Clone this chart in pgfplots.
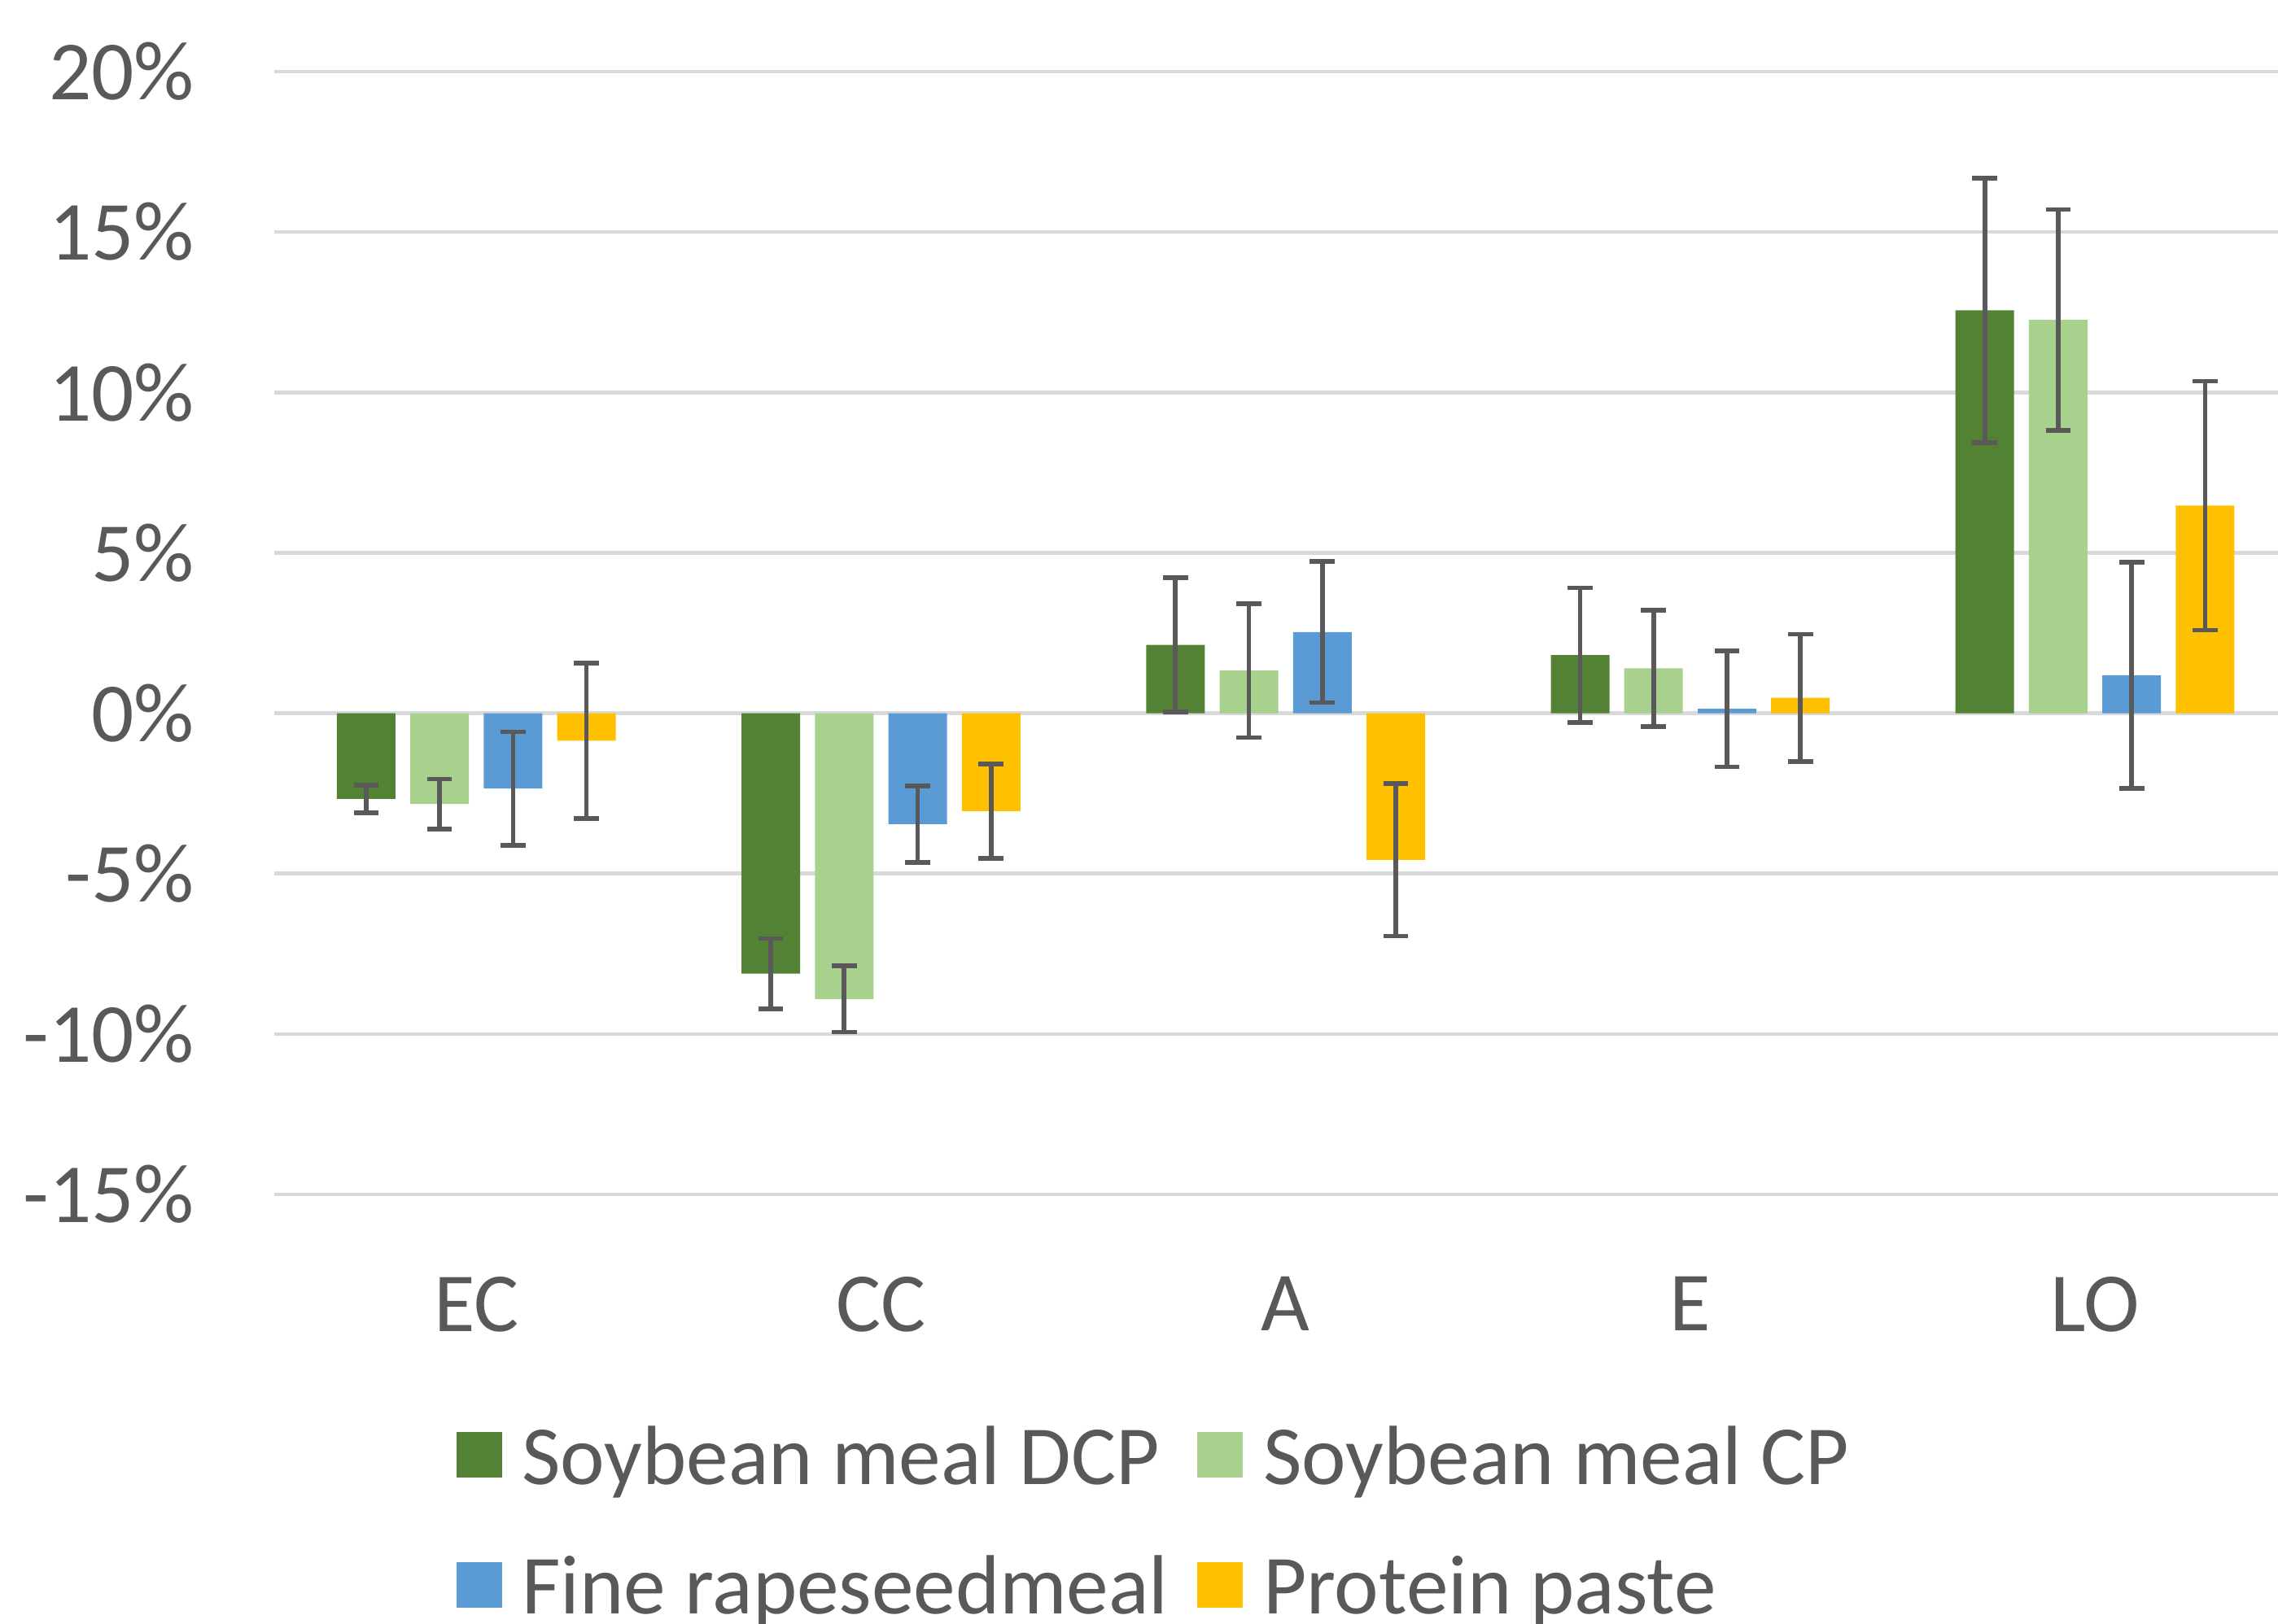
\documentclass[border=0pt]{standalone}
\usepackage{pgfplots}
\pgfplotsset{compat=1.18}
\usepackage{fontspec}
\setmainfont{Carlito}
\definecolor{cDCP}{HTML}{548235}
\definecolor{cCP}{HTML}{A9D18E}
\definecolor{cFine}{HTML}{5B9BD5}
\definecolor{cProt}{HTML}{FFC000}
\definecolor{txt}{HTML}{595959}
\definecolor{grd}{HTML}{D9D9D9}
\begin{document}
\begin{tikzpicture}
\begin{axis}[
  at={(0,0)}, anchor=south west,
  scale only axis, width=372.9pt, height=207pt,
  xmin=-0.5, xmax=4.5, ymin=-15, ymax=20,
  ytick={-15,-10,...,20},
  xtick={0,1,2,3,4},
  xticklabels={EC,CC,A,E,LO},
  yticklabel={\pgfmathprintnumber{\tick}\%},
  /pgf/number format/assume math mode=true,
  axis line style={draw=none},
  major tick length=0pt,
  ymajorgrids, grid style={grd, line width=0.68pt},
  font=\fontsize{15.5}{18}\selectfont,
  every tick label/.append style={text=txt},
  yticklabel style={anchor=east, inner sep=0pt, xshift=-14.5pt},
  xticklabel style={anchor=north, inner sep=0pt, yshift=-15pt},
  ybar, bar width=10.8pt,
  error bars/y dir=both, error bars/y explicit,
  error bars/error bar style={txt, line width=0.85pt},
  error bars/error mark options={txt, rotate=90, mark size=2.3pt, line width=0.85pt},
  legend columns=2,
  legend cell align=left,
  legend style={at={(axis description cs:0.0896,0)}, anchor=north west, yshift=-42.2pt,
    draw=none, fill=none, inner sep=0pt, row sep=8.95pt,
    font=\fontsize{15.5}{18}\selectfont, text=txt,
    nodes={inner sep=0pt, text height=11pt, text depth=4pt},
    /tikz/every odd column/.append style={column sep=3.7pt},
    /tikz/every even column/.append style={column sep=5.4pt}},
  legend image code/.code={\fill[#1] (0pt,-2.3pt) rectangle (8.4pt,6.1pt);},
]
\addplot[fill=cDCP, draw=none, bar shift=-20.3pt] coordinates {
  (0,-2.67) +- (0,0.43)
  (1,-8.12) +- (0,1.10)
  (2,2.13) +- (0,2.09)
  (3,1.81) +- (0,2.10)
  (4,12.56) +- (0,4.12)
};
\addplot[fill=cCP, draw=none, bar shift=-6.77pt] coordinates {
  (0,-2.83) +- (0,0.78)
  (1,-8.91) +- (0,1.03)
  (2,1.33) +- (0,2.09)
  (3,1.40) +- (0,1.81)
  (4,12.26) +- (0,3.44)
};
\addplot[fill=cFine, draw=none, bar shift=6.77pt] coordinates {
  (0,-2.35) +- (0,1.77)
  (1,-3.46) +- (0,1.19)
  (2,2.53) +- (0,2.20)
  (3,0.14) +- (0,1.81)
  (4,1.18) +- (0,3.52)
};
\addplot[fill=cProt, draw=none, bar shift=20.3pt] coordinates {
  (0,-0.86) +- (0,2.42)
  (1,-3.05) +- (0,1.47)
  (2,-4.57) +- (0,2.38)
  (3,0.48) +- (0,1.98)
  (4,6.47) +- (0,3.88)
};
\legend{Soybean meal DCP, Soybean meal CP, Fine rapeseedmeal, Protein paste}
\end{axis}
\pgfresetboundingbox
\useasboundingbox (-50.5pt,-79.2pt) rectangle (369.35pt,220.2pt);
\end{tikzpicture}
\end{document}
